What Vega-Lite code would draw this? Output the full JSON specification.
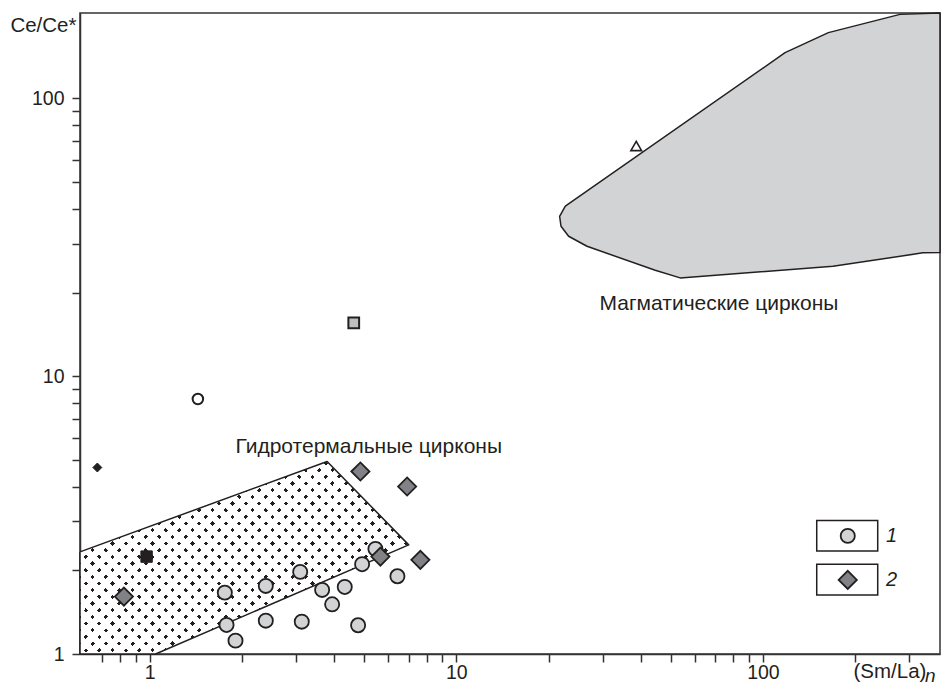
{
"$schema": "https://vega.github.io/schema/vega-lite/v6.json",
"width": 860, "height": 641,
"autosize": {"type": "none"},
"padding": {"left": 80, "top": 13, "right": 2, "bottom": 35},
"background": "white",
"config": {
  "view": {"stroke": "#333333", "strokeWidth": 1.5},
  "axis": {"grid": false, "domainColor": "#333333", "domainWidth": 1.5, "tickColor": "#333333", "tickWidth": 1.5, "tickSize": 8, "labelFont": "Liberation Sans", "labelFontSize": 19.5, "labelColor": "#231f20", "titleFont": "Liberation Sans", "titleFontSize": 20.5, "titleFontWeight": "normal", "titleColor": "#231f20", "labelOverlap": false, "labelFlush": false, "zindex": 1}
},
"datasets": {
  "magma": [
    {"x": 22.68, "y": 40.92, "o": 1},
    {"x": 118.1, "y": 146.1, "o": 2},
    {"x": 163.5, "y": 172.5, "o": 3},
    {"x": 279.9, "y": 200.7, "o": 4},
    {"x": 378, "y": 203, "o": 5},
    {"x": 378, "y": 27.86, "o": 6},
    {"x": 332.6, "y": 27.8, "o": 7},
    {"x": 169.3, "y": 24.87, "o": 8},
    {"x": 53.74, "y": 22.59, "o": 9},
    {"x": 44.54, "y": 24.06, "o": 10},
    {"x": 26.69, "y": 29.36, "o": 11},
    {"x": 23.25, "y": 31.9, "o": 12},
    {"x": 21.96, "y": 34.66, "o": 13},
    {"x": 21.73, "y": 37.65, "o": 14},
    {"x": 22.68, "y": 40.92, "o": 15}
  ],
  "hydro": [
    {"x": 0.593, "y": 2.331, "o": 1},
    {"x": 3.793, "y": 4.932, "o": 2},
    {"x": 6.998, "y": 2.471, "o": 3},
    {"x": 1.046, "y": 1, "o": 4},
    {"x": 0.593, "y": 1, "o": 5},
    {"x": 0.593, "y": 2.331, "o": 6}
  ],
  "legbox": [
    {"x": 149.8, "x2": 236.8, "y": 3.022, "y2": 2.35},
    {"x": 149.8, "x2": 236.8, "y": 2.105, "y2": 1.632}
  ],
  "pts": [
    {"x": 1.759, "y": 1.663, "k": "c"},
    {"x": 1.782, "y": 1.272, "k": "c"},
    {"x": 1.906, "y": 1.117, "k": "c"},
    {"x": 2.393, "y": 1.758, "k": "c"},
    {"x": 2.393, "y": 1.318, "k": "c"},
    {"x": 3.098, "y": 1.975, "k": "c"},
    {"x": 3.135, "y": 1.307, "k": "c"},
    {"x": 3.653, "y": 1.701, "k": "c"},
    {"x": 3.938, "y": 1.51, "k": "c"},
    {"x": 4.329, "y": 1.743, "k": "c"},
    {"x": 4.786, "y": 1.269, "k": "c"},
    {"x": 4.932, "y": 2.105, "k": "c"},
    {"x": 5.45, "y": 2.39, "k": "c"},
    {"x": 6.429, "y": 1.905, "k": "c"},
    {"x": 189.1, "y": 2.662, "k": "c"},
    {"x": 0.8246, "y": 1.609, "k": "d"},
    {"x": 4.869, "y": 4.539, "k": "d"},
    {"x": 6.915, "y": 4.008, "k": "d"},
    {"x": 5.658, "y": 2.242, "k": "d"},
    {"x": 7.638, "y": 2.182, "k": "d"},
    {"x": 189.1, "y": 1.848, "k": "d"},
    {"x": 0.6755, "y": 4.692, "k": "bd"},
    {"x": 0.9777, "y": 2.242, "k": "bs"},
    {"x": 4.632, "y": 15.55, "k": "gs"},
    {"x": 1.437, "y": 8.277, "k": "oc"},
    {"x": 38.63, "y": 67.43, "k": "ot"}
  ],
  "labels": [
    {"x": 1.906, "y": 5.288, "t": "Гидротермальные цирконы", "k": "a"},
    {"x": 29.33, "y": 17.27, "t": "Магматические цирконы", "k": "a"},
    {"x": 252, "y": 2.662, "t": "1", "k": "l"},
    {"x": 252, "y": 1.848, "t": "2", "k": "l"},
    {"x": 337.7, "y": 0.795, "t": "n", "k": "n"}
  ]
},
"encoding": {
  "x": {"field": "x", "type": "quantitative",
    "scale": {"type": "log", "domain": [0.593, 378], "nice": false},
    "axis": {"values": [0.7,0.8,0.9,1,2,3,4,5,6,7,8,9,10,20,30,40,50,60,70,80,90,100,200,300],
      "labelExpr": "datum.value == 1 ? '1' : datum.value == 10 ? '10' : datum.value == 100 ? '100' : ''",
      "labelPadding": 1,
      "title": "(Sm/La)", "titleX": 773, "titleY": 23.5, "titleAlign": "left", "titleBaseline": "alphabetic"}},
  "y": {"field": "y", "type": "quantitative",
    "scale": {"type": "log", "domain": [1, 203], "nice": false},
    "axis": {"values": [1,2,3,4,5,6,7,8,9,10,20,30,40,50,60,70,80,90,100],
      "labelExpr": "datum.value == 1 ? '1' : datum.value == 10 ? '10' : datum.value == 100 ? '100' : ''",
      "labelPadding": 8,
      "title": "Ce/Ce*", "titleAngle": 0, "titleX": -4, "titleY": 18.7, "titleAlign": "right", "titleBaseline": "alphabetic"}}
},
"layer": [
  {"data": {"name": "magma"}, "mark": {"type": "line", "fill": "#d1d3d4", "stroke": "#231f20", "strokeWidth": 1.5, "strokeJoin": "round"}, "encoding": {"order": {"field": "o", "type": "quantitative"}}},
  {"data": {"name": "hydro"}, "mark": {"type": "line", "fill": "#231f20", "strokeWidth": 0}, "encoding": {"order": {"field": "o", "type": "quantitative"}}},
  {"data": {"name": "hydro"}, "mark": {"type": "line", "strokeWidth": 0, "fill": {"gradient": "linear", "x1": -0.4489, "y1": 0.2625, "x2": 0.7595, "y2": -0.4441, "stops": [
{"offset":0,"color":"rgba(255,255,255,0)"},{"offset":0.008,"color":"rgba(255,255,255,0)"},{"offset":0.008,"color":"#fff"},{"offset":0.025,"color":"#fff"},
{"offset":0.025,"color":"rgba(255,255,255,0)"},{"offset":0.033,"color":"rgba(255,255,255,0)"},{"offset":0.033,"color":"#fff"},{"offset":0.05,"color":"#fff"},
{"offset":0.05,"color":"rgba(255,255,255,0)"},{"offset":0.058,"color":"rgba(255,255,255,0)"},{"offset":0.058,"color":"#fff"},{"offset":0.075,"color":"#fff"},
{"offset":0.075,"color":"rgba(255,255,255,0)"},{"offset":0.083,"color":"rgba(255,255,255,0)"},{"offset":0.083,"color":"#fff"},{"offset":0.1,"color":"#fff"},
{"offset":0.1,"color":"rgba(255,255,255,0)"},{"offset":0.108,"color":"rgba(255,255,255,0)"},{"offset":0.108,"color":"#fff"},{"offset":0.125,"color":"#fff"},
{"offset":0.125,"color":"rgba(255,255,255,0)"},{"offset":0.133,"color":"rgba(255,255,255,0)"},{"offset":0.133,"color":"#fff"},{"offset":0.15,"color":"#fff"},
{"offset":0.15,"color":"rgba(255,255,255,0)"},{"offset":0.158,"color":"rgba(255,255,255,0)"},{"offset":0.158,"color":"#fff"},{"offset":0.175,"color":"#fff"},
{"offset":0.175,"color":"rgba(255,255,255,0)"},{"offset":0.183,"color":"rgba(255,255,255,0)"},{"offset":0.183,"color":"#fff"},{"offset":0.2,"color":"#fff"},
{"offset":0.2,"color":"rgba(255,255,255,0)"},{"offset":0.208,"color":"rgba(255,255,255,0)"},{"offset":0.208,"color":"#fff"},{"offset":0.225,"color":"#fff"},
{"offset":0.225,"color":"rgba(255,255,255,0)"},{"offset":0.233,"color":"rgba(255,255,255,0)"},{"offset":0.233,"color":"#fff"},{"offset":0.25,"color":"#fff"},
{"offset":0.25,"color":"rgba(255,255,255,0)"},{"offset":0.258,"color":"rgba(255,255,255,0)"},{"offset":0.258,"color":"#fff"},{"offset":0.275,"color":"#fff"},
{"offset":0.275,"color":"rgba(255,255,255,0)"},{"offset":0.283,"color":"rgba(255,255,255,0)"},{"offset":0.283,"color":"#fff"},{"offset":0.3,"color":"#fff"},
{"offset":0.3,"color":"rgba(255,255,255,0)"},{"offset":0.308,"color":"rgba(255,255,255,0)"},{"offset":0.308,"color":"#fff"},{"offset":0.325,"color":"#fff"},
{"offset":0.325,"color":"rgba(255,255,255,0)"},{"offset":0.333,"color":"rgba(255,255,255,0)"},{"offset":0.333,"color":"#fff"},{"offset":0.35,"color":"#fff"},
{"offset":0.35,"color":"rgba(255,255,255,0)"},{"offset":0.358,"color":"rgba(255,255,255,0)"},{"offset":0.358,"color":"#fff"},{"offset":0.375,"color":"#fff"},
{"offset":0.375,"color":"rgba(255,255,255,0)"},{"offset":0.383,"color":"rgba(255,255,255,0)"},{"offset":0.383,"color":"#fff"},{"offset":0.4,"color":"#fff"},
{"offset":0.4,"color":"rgba(255,255,255,0)"},{"offset":0.408,"color":"rgba(255,255,255,0)"},{"offset":0.408,"color":"#fff"},{"offset":0.425,"color":"#fff"},
{"offset":0.425,"color":"rgba(255,255,255,0)"},{"offset":0.433,"color":"rgba(255,255,255,0)"},{"offset":0.433,"color":"#fff"},{"offset":0.45,"color":"#fff"},
{"offset":0.45,"color":"rgba(255,255,255,0)"},{"offset":0.458,"color":"rgba(255,255,255,0)"},{"offset":0.458,"color":"#fff"},{"offset":0.475,"color":"#fff"},
{"offset":0.475,"color":"rgba(255,255,255,0)"},{"offset":0.483,"color":"rgba(255,255,255,0)"},{"offset":0.483,"color":"#fff"},{"offset":0.5,"color":"#fff"},
{"offset":0.5,"color":"rgba(255,255,255,0)"},{"offset":0.508,"color":"rgba(255,255,255,0)"},{"offset":0.508,"color":"#fff"},{"offset":0.525,"color":"#fff"},
{"offset":0.525,"color":"rgba(255,255,255,0)"},{"offset":0.533,"color":"rgba(255,255,255,0)"},{"offset":0.533,"color":"#fff"},{"offset":0.55,"color":"#fff"},
{"offset":0.55,"color":"rgba(255,255,255,0)"},{"offset":0.558,"color":"rgba(255,255,255,0)"},{"offset":0.558,"color":"#fff"},{"offset":0.575,"color":"#fff"},
{"offset":0.575,"color":"rgba(255,255,255,0)"},{"offset":0.583,"color":"rgba(255,255,255,0)"},{"offset":0.583,"color":"#fff"},{"offset":0.6,"color":"#fff"},
{"offset":0.6,"color":"rgba(255,255,255,0)"},{"offset":0.608,"color":"rgba(255,255,255,0)"},{"offset":0.608,"color":"#fff"},{"offset":0.625,"color":"#fff"},
{"offset":0.625,"color":"rgba(255,255,255,0)"},{"offset":0.633,"color":"rgba(255,255,255,0)"},{"offset":0.633,"color":"#fff"},{"offset":0.65,"color":"#fff"},
{"offset":0.65,"color":"rgba(255,255,255,0)"},{"offset":0.658,"color":"rgba(255,255,255,0)"},{"offset":0.658,"color":"#fff"},{"offset":0.675,"color":"#fff"},
{"offset":0.675,"color":"rgba(255,255,255,0)"},{"offset":0.683,"color":"rgba(255,255,255,0)"},{"offset":0.683,"color":"#fff"},{"offset":0.7,"color":"#fff"},
{"offset":0.7,"color":"rgba(255,255,255,0)"},{"offset":0.708,"color":"rgba(255,255,255,0)"},{"offset":0.708,"color":"#fff"},{"offset":0.725,"color":"#fff"},
{"offset":0.725,"color":"rgba(255,255,255,0)"},{"offset":0.733,"color":"rgba(255,255,255,0)"},{"offset":0.733,"color":"#fff"},{"offset":0.75,"color":"#fff"},
{"offset":0.75,"color":"rgba(255,255,255,0)"},{"offset":0.758,"color":"rgba(255,255,255,0)"},{"offset":0.758,"color":"#fff"},{"offset":0.775,"color":"#fff"},
{"offset":0.775,"color":"rgba(255,255,255,0)"},{"offset":0.783,"color":"rgba(255,255,255,0)"},{"offset":0.783,"color":"#fff"},{"offset":0.8,"color":"#fff"},
{"offset":0.8,"color":"rgba(255,255,255,0)"},{"offset":0.808,"color":"rgba(255,255,255,0)"},{"offset":0.808,"color":"#fff"},{"offset":0.825,"color":"#fff"},
{"offset":0.825,"color":"rgba(255,255,255,0)"},{"offset":0.833,"color":"rgba(255,255,255,0)"},{"offset":0.833,"color":"#fff"},{"offset":0.85,"color":"#fff"},
{"offset":0.85,"color":"rgba(255,255,255,0)"},{"offset":0.858,"color":"rgba(255,255,255,0)"},{"offset":0.858,"color":"#fff"},{"offset":0.875,"color":"#fff"},
{"offset":0.875,"color":"rgba(255,255,255,0)"},{"offset":0.883,"color":"rgba(255,255,255,0)"},{"offset":0.883,"color":"#fff"},{"offset":0.9,"color":"#fff"},
{"offset":0.9,"color":"rgba(255,255,255,0)"},{"offset":0.908,"color":"rgba(255,255,255,0)"},{"offset":0.908,"color":"#fff"},{"offset":0.925,"color":"#fff"},
{"offset":0.925,"color":"rgba(255,255,255,0)"},{"offset":0.933,"color":"rgba(255,255,255,0)"},{"offset":0.933,"color":"#fff"},{"offset":0.95,"color":"#fff"},
{"offset":0.95,"color":"rgba(255,255,255,0)"},{"offset":0.958,"color":"rgba(255,255,255,0)"},{"offset":0.958,"color":"#fff"},{"offset":0.975,"color":"#fff"},
{"offset":0.975,"color":"rgba(255,255,255,0)"},{"offset":0.983,"color":"rgba(255,255,255,0)"},{"offset":0.983,"color":"#fff"},{"offset":1,"color":"#fff"}
  ]}}, "encoding": {"order": {"field": "o", "type": "quantitative"}}},
  {"data": {"name": "hydro"}, "mark": {"type": "line", "strokeWidth": 0, "fill": {"gradient": "linear", "x1": -0.0173, "y1": -0.0101, "x2": 1.1911, "y2": 0.6965, "stops": [
{"offset":0,"color":"rgba(255,255,255,0)"},{"offset":0.008,"color":"rgba(255,255,255,0)"},{"offset":0.008,"color":"#fff"},{"offset":0.025,"color":"#fff"},
{"offset":0.025,"color":"rgba(255,255,255,0)"},{"offset":0.033,"color":"rgba(255,255,255,0)"},{"offset":0.033,"color":"#fff"},{"offset":0.05,"color":"#fff"},
{"offset":0.05,"color":"rgba(255,255,255,0)"},{"offset":0.058,"color":"rgba(255,255,255,0)"},{"offset":0.058,"color":"#fff"},{"offset":0.075,"color":"#fff"},
{"offset":0.075,"color":"rgba(255,255,255,0)"},{"offset":0.083,"color":"rgba(255,255,255,0)"},{"offset":0.083,"color":"#fff"},{"offset":0.1,"color":"#fff"},
{"offset":0.1,"color":"rgba(255,255,255,0)"},{"offset":0.108,"color":"rgba(255,255,255,0)"},{"offset":0.108,"color":"#fff"},{"offset":0.125,"color":"#fff"},
{"offset":0.125,"color":"rgba(255,255,255,0)"},{"offset":0.133,"color":"rgba(255,255,255,0)"},{"offset":0.133,"color":"#fff"},{"offset":0.15,"color":"#fff"},
{"offset":0.15,"color":"rgba(255,255,255,0)"},{"offset":0.158,"color":"rgba(255,255,255,0)"},{"offset":0.158,"color":"#fff"},{"offset":0.175,"color":"#fff"},
{"offset":0.175,"color":"rgba(255,255,255,0)"},{"offset":0.183,"color":"rgba(255,255,255,0)"},{"offset":0.183,"color":"#fff"},{"offset":0.2,"color":"#fff"},
{"offset":0.2,"color":"rgba(255,255,255,0)"},{"offset":0.208,"color":"rgba(255,255,255,0)"},{"offset":0.208,"color":"#fff"},{"offset":0.225,"color":"#fff"},
{"offset":0.225,"color":"rgba(255,255,255,0)"},{"offset":0.233,"color":"rgba(255,255,255,0)"},{"offset":0.233,"color":"#fff"},{"offset":0.25,"color":"#fff"},
{"offset":0.25,"color":"rgba(255,255,255,0)"},{"offset":0.258,"color":"rgba(255,255,255,0)"},{"offset":0.258,"color":"#fff"},{"offset":0.275,"color":"#fff"},
{"offset":0.275,"color":"rgba(255,255,255,0)"},{"offset":0.283,"color":"rgba(255,255,255,0)"},{"offset":0.283,"color":"#fff"},{"offset":0.3,"color":"#fff"},
{"offset":0.3,"color":"rgba(255,255,255,0)"},{"offset":0.308,"color":"rgba(255,255,255,0)"},{"offset":0.308,"color":"#fff"},{"offset":0.325,"color":"#fff"},
{"offset":0.325,"color":"rgba(255,255,255,0)"},{"offset":0.333,"color":"rgba(255,255,255,0)"},{"offset":0.333,"color":"#fff"},{"offset":0.35,"color":"#fff"},
{"offset":0.35,"color":"rgba(255,255,255,0)"},{"offset":0.358,"color":"rgba(255,255,255,0)"},{"offset":0.358,"color":"#fff"},{"offset":0.375,"color":"#fff"},
{"offset":0.375,"color":"rgba(255,255,255,0)"},{"offset":0.383,"color":"rgba(255,255,255,0)"},{"offset":0.383,"color":"#fff"},{"offset":0.4,"color":"#fff"},
{"offset":0.4,"color":"rgba(255,255,255,0)"},{"offset":0.408,"color":"rgba(255,255,255,0)"},{"offset":0.408,"color":"#fff"},{"offset":0.425,"color":"#fff"},
{"offset":0.425,"color":"rgba(255,255,255,0)"},{"offset":0.433,"color":"rgba(255,255,255,0)"},{"offset":0.433,"color":"#fff"},{"offset":0.45,"color":"#fff"},
{"offset":0.45,"color":"rgba(255,255,255,0)"},{"offset":0.458,"color":"rgba(255,255,255,0)"},{"offset":0.458,"color":"#fff"},{"offset":0.475,"color":"#fff"},
{"offset":0.475,"color":"rgba(255,255,255,0)"},{"offset":0.483,"color":"rgba(255,255,255,0)"},{"offset":0.483,"color":"#fff"},{"offset":0.5,"color":"#fff"},
{"offset":0.5,"color":"rgba(255,255,255,0)"},{"offset":0.508,"color":"rgba(255,255,255,0)"},{"offset":0.508,"color":"#fff"},{"offset":0.525,"color":"#fff"},
{"offset":0.525,"color":"rgba(255,255,255,0)"},{"offset":0.533,"color":"rgba(255,255,255,0)"},{"offset":0.533,"color":"#fff"},{"offset":0.55,"color":"#fff"},
{"offset":0.55,"color":"rgba(255,255,255,0)"},{"offset":0.558,"color":"rgba(255,255,255,0)"},{"offset":0.558,"color":"#fff"},{"offset":0.575,"color":"#fff"},
{"offset":0.575,"color":"rgba(255,255,255,0)"},{"offset":0.583,"color":"rgba(255,255,255,0)"},{"offset":0.583,"color":"#fff"},{"offset":0.6,"color":"#fff"},
{"offset":0.6,"color":"rgba(255,255,255,0)"},{"offset":0.608,"color":"rgba(255,255,255,0)"},{"offset":0.608,"color":"#fff"},{"offset":0.625,"color":"#fff"},
{"offset":0.625,"color":"rgba(255,255,255,0)"},{"offset":0.633,"color":"rgba(255,255,255,0)"},{"offset":0.633,"color":"#fff"},{"offset":0.65,"color":"#fff"},
{"offset":0.65,"color":"rgba(255,255,255,0)"},{"offset":0.658,"color":"rgba(255,255,255,0)"},{"offset":0.658,"color":"#fff"},{"offset":0.675,"color":"#fff"},
{"offset":0.675,"color":"rgba(255,255,255,0)"},{"offset":0.683,"color":"rgba(255,255,255,0)"},{"offset":0.683,"color":"#fff"},{"offset":0.7,"color":"#fff"},
{"offset":0.7,"color":"rgba(255,255,255,0)"},{"offset":0.708,"color":"rgba(255,255,255,0)"},{"offset":0.708,"color":"#fff"},{"offset":0.725,"color":"#fff"},
{"offset":0.725,"color":"rgba(255,255,255,0)"},{"offset":0.733,"color":"rgba(255,255,255,0)"},{"offset":0.733,"color":"#fff"},{"offset":0.75,"color":"#fff"},
{"offset":0.75,"color":"rgba(255,255,255,0)"},{"offset":0.758,"color":"rgba(255,255,255,0)"},{"offset":0.758,"color":"#fff"},{"offset":0.775,"color":"#fff"},
{"offset":0.775,"color":"rgba(255,255,255,0)"},{"offset":0.783,"color":"rgba(255,255,255,0)"},{"offset":0.783,"color":"#fff"},{"offset":0.8,"color":"#fff"},
{"offset":0.8,"color":"rgba(255,255,255,0)"},{"offset":0.808,"color":"rgba(255,255,255,0)"},{"offset":0.808,"color":"#fff"},{"offset":0.825,"color":"#fff"},
{"offset":0.825,"color":"rgba(255,255,255,0)"},{"offset":0.833,"color":"rgba(255,255,255,0)"},{"offset":0.833,"color":"#fff"},{"offset":0.85,"color":"#fff"},
{"offset":0.85,"color":"rgba(255,255,255,0)"},{"offset":0.858,"color":"rgba(255,255,255,0)"},{"offset":0.858,"color":"#fff"},{"offset":0.875,"color":"#fff"},
{"offset":0.875,"color":"rgba(255,255,255,0)"},{"offset":0.883,"color":"rgba(255,255,255,0)"},{"offset":0.883,"color":"#fff"},{"offset":0.9,"color":"#fff"},
{"offset":0.9,"color":"rgba(255,255,255,0)"},{"offset":0.908,"color":"rgba(255,255,255,0)"},{"offset":0.908,"color":"#fff"},{"offset":0.925,"color":"#fff"},
{"offset":0.925,"color":"rgba(255,255,255,0)"},{"offset":0.933,"color":"rgba(255,255,255,0)"},{"offset":0.933,"color":"#fff"},{"offset":0.95,"color":"#fff"},
{"offset":0.95,"color":"rgba(255,255,255,0)"},{"offset":0.958,"color":"rgba(255,255,255,0)"},{"offset":0.958,"color":"#fff"},{"offset":0.975,"color":"#fff"},
{"offset":0.975,"color":"rgba(255,255,255,0)"},{"offset":0.983,"color":"rgba(255,255,255,0)"},{"offset":0.983,"color":"#fff"},{"offset":1,"color":"#fff"}
  ]}}, "encoding": {"order": {"field": "o", "type": "quantitative"}}},
  {"data": {"name": "hydro"}, "mark": {"type": "line", "stroke": "#231f20", "strokeWidth": 1.5, "strokeJoin": "round"}, "encoding": {"order": {"field": "o", "type": "quantitative"}}},
  {"data": {"name": "legbox"}, "mark": {"type": "rect", "fill": "white", "stroke": "#231f20", "strokeWidth": 1.5}, "encoding": {"x2": {"field": "x2"}, "y2": {"field": "y2"}}},
  {"data": {"name": "pts"}, "transform": [{"filter": "datum.k == 'c'"}], "mark": {"type": "point", "shape": "circle", "filled": true, "fill": "#d1d3d4", "stroke": "#231f20", "strokeWidth": 1.8, "size": 200, "opacity": 1}},
  {"data": {"name": "pts"}, "transform": [{"filter": "datum.k == 'd'"}], "mark": {"type": "point", "shape": "diamond", "filled": true, "fill": "#808285", "stroke": "#231f20", "strokeWidth": 1.8, "size": 330, "opacity": 1}},
  {"data": {"name": "pts"}, "transform": [{"filter": "datum.k == 'bd'"}], "mark": {"type": "point", "shape": "diamond", "filled": true, "fill": "#231f20", "stroke": "#231f20", "strokeWidth": 1, "size": 80, "opacity": 1}},
  {"data": {"name": "pts"}, "transform": [{"filter": "datum.k == 'bs'"}], "mark": {"type": "point", "shape": "square", "filled": true, "fill": "#231f20", "stroke": "#231f20", "strokeWidth": 1, "size": 130, "opacity": 1}},
  {"data": {"name": "pts"}, "transform": [{"filter": "datum.k == 'gs'"}], "mark": {"type": "point", "shape": "square", "filled": true, "fill": "#bcbec0", "stroke": "#231f20", "strokeWidth": 2, "size": 115, "opacity": 1}},
  {"data": {"name": "pts"}, "transform": [{"filter": "datum.k == 'oc'"}], "mark": {"type": "point", "shape": "circle", "filled": true, "fill": "white", "stroke": "#231f20", "strokeWidth": 2, "size": 110, "opacity": 1}},
  {"data": {"name": "pts"}, "transform": [{"filter": "datum.k == 'ot'"}], "mark": {"type": "point", "shape": "triangle-up", "filled": true, "fill": "white", "stroke": "#231f20", "strokeWidth": 1.6, "size": 115, "opacity": 1}},
  {"data": {"name": "labels"}, "transform": [{"filter": "datum.k == 'a'"}], "mark": {"type": "text", "align": "left", "baseline": "alphabetic", "font": "Liberation Sans", "fontSize": 21, "fill": "#231f20"}, "encoding": {"text": {"field": "t"}}},
  {"data": {"name": "labels"}, "transform": [{"filter": "datum.k == 'l'"}], "mark": {"type": "text", "align": "left", "baseline": "middle", "font": "Liberation Sans", "fontSize": 20, "fontStyle": "italic", "fill": "#231f20"}, "encoding": {"text": {"field": "t"}}},
  {"data": {"name": "labels"}, "transform": [{"filter": "datum.k == 'n'"}], "mark": {"type": "text", "align": "left", "baseline": "alphabetic", "font": "Liberation Sans", "fontSize": 19, "fontStyle": "italic", "fill": "#231f20"}, "encoding": {"text": {"field": "t"}}}
]
}
